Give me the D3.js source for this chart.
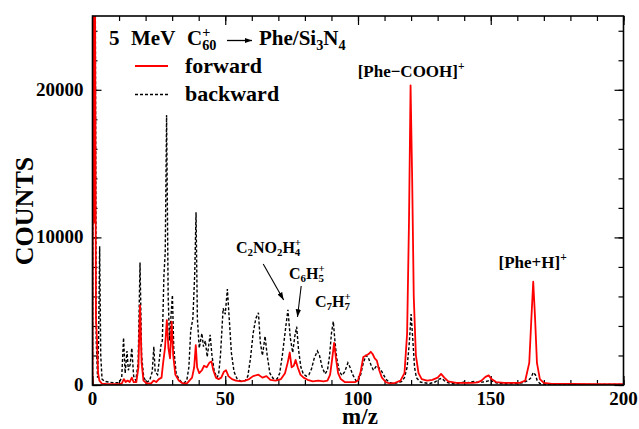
<!DOCTYPE html>
<html>
<head>
<meta charset="utf-8">
<script src="https://cdn.jsdelivr.net/npm/d3@7"></script>
<style>
  body { margin: 0; background: #fff; }
  svg text { font-family: "Liberation Serif", "Times New Roman", serif; font-weight: bold; }
</style>
</head>
<body>
<svg id="chart" width="639" height="429"></svg>
<script>
// spectra: [m/z, counts]
const forward = [
  [0,0],[0.3,30000],[0.6,11000],[0.9,30000],[1.3,4600],[1.7,3000],[2.1,800],[2.6,300],[3.5,100],
  [5,80],[8,60],[10,50],[11,100],[11.8,400],[12.5,200],[13.2,300],[14,200],[14.8,500],[15.5,200],
  [16.5,200],[17.3,1200],[17.9,5400],[18.5,1500],[19.2,300],[20.5,100],[22,100],[23,300],[24,200],
  [25,400],[26,500],[26.6,1500],[27.3,2500],[28,4400],[28.6,2500],[29.2,1800],[29.8,4300],[30.4,2000],
  [31.2,700],[32.5,300],[34,100],[35.5,100],[36.5,300],[37.5,500],[38.3,1200],[38.9,2700],[39.4,1200],
  [40.2,800],[41.2,1000],[42,1300],[43,1200],[44,1500],[44.8,1600],[45.5,1000],[46.5,500],[47.5,400],
  [48.5,500],[49.5,900],[50.3,1000],[51.2,600],[52.5,400],[54,300],[56,250],[57.5,300],[59,400],
  [60.5,600],[62.5,700],[64,500],[65.5,600],[67,350],[69,300],[71,400],[72.5,800],[73.5,1500],
  [74.3,2200],[75,1200],[75.8,1300],[76.5,1700],[77.3,1200],[78.3,700],[79.5,500],[81,350],[83,250],
  [85,300],[87,250],[88.5,300],[89.5,700],[90.3,1800],[91,2850],[91.7,1800],[92.5,800],[93.5,400],
  [95,200],[97,200],[99,200],[100,300],[101,900],[102,1900],[103,2000],[104,2100],[104.8,2250],
  [105.5,2100],[106.3,1800],[107.1,1650],[108,1000],[109,500],[110.5,200],[112,100],[114,150],
  [116,300],[117.5,800],[118.5,3500],[119.2,11000],[119.8,20300],[120.4,14000],[121,6000],[121.8,2000],
  [122.8,800],[124,400],[126,300],[128,350],[130,500],[131.3,750],[132.5,500],[134,250],[137,150],
  [140,150],[143,150],[145,180],[146.5,300],[148,550],[149.2,650],[150.3,400],[152,200],[155,150],
  [158,150],[161,150],[163,300],[164.5,1500],[165.3,4500],[166,7000],[166.7,4500],[167.4,1500],
  [168.5,400],[170,150],[173,80],[180,70],[190,50],[200,50]
];

const backward = [
  [0,0],[0.3,30000],[0.7,26000],[1,30000],[1.4,3000],[1.9,500],[2.3,3000],[2.7,9400],[3.1,2000],
  [3.6,400],[4.5,250],[6,200],[8,150],[10,150],[11,500],[11.7,3200],[12.3,800],[13,2300],[13.5,1000],
  [14.2,1400],[14.8,2500],[15.5,600],[16.3,300],[17.2,1500],[17.9,8300],[18.5,2000],[19.3,500],
  [20.5,200],[21.5,300],[22.5,900],[23.1,2600],[23.6,900],[24.5,700],[25.1,1600],[25.8,2700],
  [26.3,3000],[26.9,7400],[27.4,9000],[27.9,18300],[28.5,6000],[29,3000],[29.5,4500],[30.1,6100],
  [30.6,2500],[31.5,800],[32.5,400],[33.5,200],[34.5,150],[35.5,300],[36.3,1200],[37,3700],[37.8,4500],
  [38.5,7500],[39,11700],[39.5,4500],[40.2,2500],[41.2,3500],[41.8,2600],[42.5,3000],[43.2,1900],
  [44.3,3400],[45,2000],[45.8,1000],[46.8,500],[47.5,700],[48.2,2000],[49.2,5200],[50,4800],[50.8,6500],
  [51.5,4500],[52.3,2200],[53.3,900],[54.5,400],[56,250],[57.5,300],[58.5,600],[59.5,1800],[60.5,3500],
  [61.5,4500],[62.5,4900],[63.2,2900],[64,2000],[65,3300],[65.8,2000],[66.8,800],[68,450],[69.5,400],
  [70.5,800],[71.5,2000],[72.5,3500],[73.6,5100],[74.5,3200],[75.4,2200],[76.2,3300],[76.9,3950],
  [77.6,2400],[78.5,1200],[79.4,750],[80.5,600],[81.5,700],[82.5,1100],[83.5,1800],[84.7,2300],
  [85.5,2000],[86.5,1200],[87.6,750],[88.5,1000],[89.3,2000],[90,3500],[90.7,4300],[91.3,3000],
  [92,1800],[93,900],[94,650],[95,900],[96.2,1500],[97,1200],[98,700],[99.2,300],[100,250],[101,700],
  [102,1500],[103,2000],[103.8,1900],[104.8,1400],[105.8,1000],[107,1300],[108,1150],[109,900],
  [110.5,400],[112,150],[113.5,100],[115,150],[116.5,250],[117.5,500],[118.5,1200],[119.3,2800],
  [120,4800],[120.6,3200],[121.3,1200],[122,500],[123.5,200],[125,150],[127,100],[129,200],[130.5,400],
  [131.5,450],[132.5,300],[134,150],[136,80],[138,100],[140,200],[141,150],[142.5,200],[144,250],
  [145,180],[147,200],[148.5,250],[150,350],[151,200],[153,100],[156,80],[159,100],[162,150],[164,300],
  [165.2,500],[166,850],[166.8,700],[167.5,300],[168.5,100],[171,50],[175,30],[180,50],[190,30],[200,30]
];

const xMajor = [0, 50, 100, 150, 200];
const xMinor = d3.range(0, 201, 10);
const yMajor = [0, 10000, 20000];
const yMinor = d3.range(0, 25001, 2000);

const width = 639, height = 429;
const margin = {top: 16, right: 15.5, bottom: 44, left: 92.5};

const x = d3.scaleLinear().domain([0, 200]).range([margin.left, width - margin.right]);
const y = d3.scaleLinear().domain([0, 25000]).range([height - margin.bottom, margin.top]);

const svg = d3.select("#chart");

svg.append("clipPath").attr("id", "plot")
  .append("rect")
  .attr("x", margin.left).attr("y", margin.top)
  .attr("width", width - margin.left - margin.right)
  .attr("height", height - margin.top - margin.bottom);

// ticks (pointing inward on all four sides)
function ticks(axis, tr, vals, size) {
  svg.append("g").attr("transform", tr)
    .call(axis.tickValues(vals).tickSize(size).tickFormat(""))
    .call(g => g.select(".domain").remove())
    .selectAll("line").attr("stroke", "#000").attr("stroke-width", 1.2);
}
const atBottom = `translate(0,${y(0)})`, atTop = `translate(0,${y(25000)})`;
const atLeft = `translate(${x(0)},0)`, atRight = `translate(${x(200)},0)`;
ticks(d3.axisBottom(x), atBottom, xMinor, -5);
ticks(d3.axisBottom(x), atBottom, xMajor, -9);
ticks(d3.axisTop(x), atTop, xMinor, -5);
ticks(d3.axisTop(x), atTop, xMajor, -9);
ticks(d3.axisLeft(y), atLeft, yMinor, -5);
ticks(d3.axisLeft(y), atLeft, yMajor, -9);
ticks(d3.axisRight(y), atRight, yMinor, -5);
ticks(d3.axisRight(y), atRight, yMajor, -9);

// tick labels
svg.append("g").selectAll("text").data(xMajor).join("text")
  .attr("x", d => x(d)).attr("y", y(0) + 20)
  .attr("text-anchor", "middle").attr("font-size", 19).text(d => d);
svg.append("g").selectAll("text").data(yMajor).join("text")
  .attr("x", x(0) - 9).attr("y", d => y(d) + 6)
  .attr("text-anchor", "end").attr("font-size", 19).text(d => d);

svg.append("text").attr("x", x(100) + 2).attr("y", 424)
  .attr("text-anchor", "middle").attr("font-size", 23).text("m/z");
svg.append("text").attr("transform", "translate(33,211) rotate(-90)")
  .attr("text-anchor", "middle").attr("font-size", 26).text("COUNTS");

// spectra
const line = d3.line().x(d => x(d[0])).y(d => y(d[1]));
const plot = svg.append("g").attr("clip-path", "url(#plot)");
plot.append("path").datum(backward)
  .attr("fill", "none").attr("stroke", "#000").attr("stroke-width", 1.4)
  .attr("stroke-dasharray", "3,2").attr("d", line);
plot.append("path").datum(forward)
  .attr("fill", "none").attr("stroke", "#ff0000").attr("stroke-width", 1.8)
  .attr("stroke-linejoin", "round").attr("d", line);

// frame
svg.append("rect")
  .attr("x", margin.left).attr("y", margin.top)
  .attr("width", width - margin.left - margin.right)
  .attr("height", height - margin.top - margin.bottom)
  .attr("fill", "none").attr("stroke", "#000").attr("stroke-width", 1.6);

// rich text with sub/superscripts: parts are [text, sub, sup]
function rich(px, py, parts, size, anchor) {
  const t = svg.append("text").attr("x", px).attr("y", py)
    .attr("font-size", size).attr("text-anchor", anchor || "start");
  let shift = 0;
  const put = (ts, target) => { ts.attr("dy", target - shift); shift = target; };
  parts.forEach(([txt, sub, sup]) => {
    if (txt) put(t.append("tspan").text(txt), 0);
    let supLen = 0;
    if (sup) {
      const ts = t.append("tspan").attr("font-size", size * 0.68).text(sup);
      put(ts, -0.4 * size);
      supLen = ts.node().getComputedTextLength();
    }
    if (sub) {
      const ts = t.append("tspan").attr("font-size", size * 0.68).text(sub);
      if (sup) ts.attr("dx", -supLen);
      put(ts, 0.22 * size);
    }
  });
  return t;
}

// arrowhead markers
const defs = svg.append("defs");
defs.append("marker").attr("id", "head")
  .attr("viewBox", "0 0 10 10").attr("refX", 10).attr("refY", 5)
  .attr("markerWidth", 7).attr("markerHeight", 7).attr("orient", "auto")
  .append("path").attr("d", "M0,1.5L10,5L0,8.5Z").attr("fill", "#000");
defs.append("marker").attr("id", "headSmall")
  .attr("viewBox", "0 0 10 10").attr("refX", 10).attr("refY", 5)
  .attr("markerWidth", 5.5).attr("markerHeight", 5.5).attr("orient", "auto")
  .append("path").attr("d", "M0,1.5L10,5L0,8.5Z").attr("fill", "#000");

// title and legend
rich(109, 45, [["5"]], 21);
rich(131, 45, [["MeV"]], 21);
rich(187, 45, [["C", "60", "+"]], 21);
svg.append("line").attr("x1", 227).attr("x2", 252).attr("y1", 40.5).attr("y2", 40.5)
  .attr("stroke", "#000").attr("stroke-width", 1.3).attr("marker-end", "url(#headSmall)");
rich(259, 45, [["Phe/Si", "3"], ["N", "4"]], 21);

svg.append("line").attr("x1", 135).attr("x2", 168).attr("y1", 66).attr("y2", 66)
  .attr("stroke", "#ff0000").attr("stroke-width", 1.8);
svg.append("text").attr("x", 185).attr("y", 72.5).attr("font-size", 22).text("forward");
svg.append("line").attr("x1", 135).attr("x2", 168).attr("y1", 94.5).attr("y2", 94.5)
  .attr("stroke", "#000").attr("stroke-width", 1.4).attr("stroke-dasharray", "3,2");
svg.append("text").attr("x", 185).attr("y", 100.5).attr("font-size", 22).text("backward");

// peak annotations (placed in data units)
rich(x(120), y(20900), [["[Phe\u2212COOH]", null, "+"]], 17, "middle");
rich(x(165.8), y(7930), [["[Phe+H]", null, "+"]], 17, "middle");
rich(x(66.3), y(8950), [["C", "2"], ["NO", "2"], ["H", "4", "+"]], 16, "middle");
rich(x(80.7), y(7190), [["C", "6"], ["H", "5", "+"]], 16, "middle");
rich(x(90.5), y(5310), [["C", "7"], ["H", "7", "+"]], 16, "middle");

const arrows = [[[64.3, 8200], [72.0, 5760]], [[78.6, 6710], [77.2, 4610]]];
svg.append("g").selectAll("line").data(arrows).join("line")
  .attr("x1", d => x(d[0][0])).attr("y1", d => y(d[0][1]))
  .attr("x2", d => x(d[1][0])).attr("y2", d => y(d[1][1]))
  .attr("stroke", "#000").attr("stroke-width", 1.1).attr("marker-end", "url(#head)");
</script>
</body>
</html>
